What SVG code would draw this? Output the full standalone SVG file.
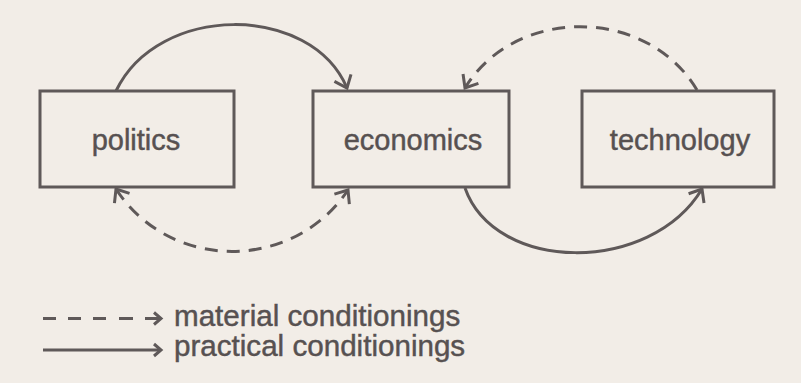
<svg xmlns="http://www.w3.org/2000/svg" width="801" height="383" viewBox="0 0 801 383">
  <defs>
    <style>
      .box { fill: none; stroke: #5f5959; stroke-width: 3; }
      .lbl { font-family: "Liberation Sans", Arial, sans-serif; font-size: 29px; fill: #575151; stroke: #575151; stroke-width: 0.45; }
      .leg { font-size: 29.6px; }
      .solid { fill: none; stroke: #5f5959; stroke-width: 3; }
      .dash { fill: none; stroke: #5f5959; stroke-width: 3; stroke-dasharray: 13 9; }
    </style>
    <marker id="arr" markerUnits="userSpaceOnUse" viewBox="-14 -11 17 22" markerWidth="17" markerHeight="22" refX="0" refY="0" orient="auto-start-reverse" overflow="visible">
      <path d="M-11,-9 L0,0 L-11,9" fill="none" stroke="#5f5959" stroke-width="3" stroke-dasharray="none" stroke-linejoin="miter"/>
    </marker>
    <marker id="arrS" markerUnits="userSpaceOnUse" viewBox="-10 -8 12 16" markerWidth="12" markerHeight="16" refX="0" refY="0" orient="auto" overflow="visible">
      <path d="M-7,-6 L0,0 L-7,6" fill="none" stroke="#5f5959" stroke-width="3" stroke-dasharray="none"/>
    </marker>
  </defs>
  <rect width="801" height="383" fill="#f2ede7"/>

  <g id="connectors">
    <path class="solid" d="M116,91 C158,3 311,3 347,88" marker-end="url(#arr)"/>
    <path class="dash" d="M697,90 C647,6 515,6 465,88" marker-end="url(#arr)"/>
    <path class="dash" d="M116,189 C170,272 293,272 348,190" marker-start="url(#arr)" marker-end="url(#arr)"/>
    <path class="solid" d="M465,188 C495,273 650,275 702,189" marker-end="url(#arr)"/>
  </g>

  <g id="politics">
    <rect class="box" x="40" y="91" width="194" height="96"/>
    <text class="lbl" x="136" y="150" text-anchor="middle">politics</text>
  </g>
  <g id="economics">
    <rect class="box" x="313" y="91" width="196" height="96"/>
    <text class="lbl" x="413" y="150" text-anchor="middle">economics</text>
  </g>
  <g id="technology">
    <rect class="box" x="582" y="91" width="192" height="96"/>
    <text class="lbl" x="680" y="150" text-anchor="middle">technology</text>
  </g>

  <g id="legend">
    <path class="solid" d="M43,318.5 L56,318.5 M68,318.5 L81,318.5 M93,318.5 L106,318.5 M119,318.5 L133,318.5 M145,318.5 L161,318.5" marker-end="url(#arrS)"/>
    <text class="lbl leg" x="174" y="326">material conditionings</text>
    <path class="solid" d="M43,350 L161,350" marker-end="url(#arrS)"/>
    <text class="lbl leg" x="174" y="356">practical conditionings</text>
  </g>
</svg>
